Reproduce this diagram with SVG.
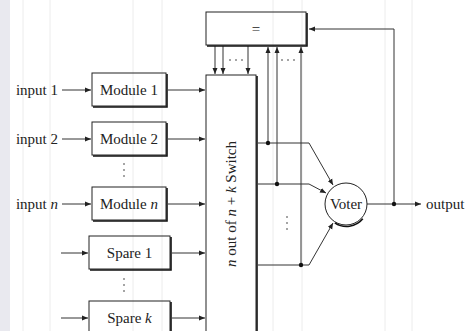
<svg xmlns="http://www.w3.org/2000/svg" width="468" height="331" viewBox="0 0 468 331">
<style>
.bg{stroke:#ececec;stroke-width:1}
.box{fill:none;stroke:#222;stroke-width:1}
.sh{fill:none;stroke:#111;stroke-width:1.6}
.c{fill:none;stroke:#333;stroke-width:1}
.a{marker-end:url(#ah)}
.d{fill:#333}
text{font-family:"Liberation Serif","Times New Roman",serif;font-size:15px;fill:#222}
.m{text-anchor:middle}
.e{text-anchor:end}
.i{font-style:italic}
</style>
<defs>
<marker id="ah" markerUnits="userSpaceOnUse" markerWidth="8" markerHeight="6" refX="6" refY="3" orient="auto">
<path d="M0,0.5 L6,3 L0,5.5 z" fill="#222"/>
</marker>
</defs>
<rect x="0" y="0" width="468" height="331" fill="#fff"/>
<rect x="0" y="0" width="10" height="331" fill="#e9e9ef"/>
<g id="grid">
<line class="bg" x1="23" y1="0" x2="23" y2="331"/>
<line class="bg" x1="50" y1="0" x2="50" y2="331"/>
<line class="bg" x1="133" y1="0" x2="133" y2="331"/>
<line class="bg" x1="162" y1="0" x2="162" y2="331"/>
<line class="bg" x1="273" y1="0" x2="273" y2="331"/>
<line class="bg" x1="302" y1="0" x2="302" y2="331"/>
<line class="bg" x1="385" y1="0" x2="385" y2="331"/>
<line class="bg" x1="412" y1="0" x2="412" y2="331"/>
</g>
<g id="connectors">
<line class="c a" x1="62" y1="90" x2="91" y2="90"/>
<line class="c a" x1="62" y1="139" x2="91" y2="139"/>
<line class="c a" x1="62" y1="204" x2="91" y2="204"/>
<line class="c a" x1="61" y1="253" x2="88" y2="253"/>
<line class="c a" x1="61" y1="318" x2="88" y2="318"/>
<line class="c a" x1="168" y1="90" x2="205" y2="90"/>
<line class="c a" x1="168" y1="139" x2="205" y2="139"/>
<line class="c a" x1="168" y1="204" x2="205" y2="204"/>
<line class="c a" x1="172" y1="253" x2="205" y2="253"/>
<line class="c a" x1="172" y1="318" x2="205" y2="318"/>
<line class="c a" x1="215" y1="46" x2="215" y2="74"/>
<line class="c a" x1="223" y1="46" x2="223" y2="74"/>
<line class="c a" x1="248" y1="46" x2="248" y2="74"/>
<line class="c a" x1="268" y1="143" x2="268" y2="47"/>
<line class="c a" x1="277" y1="184" x2="277" y2="47"/>
<line class="c a" x1="301" y1="265" x2="301" y2="47"/>
<polyline class="c a" points="258,143 309,143 333,185"/>
<polyline class="c a" points="258,184 309,184 326,193"/>
<polyline class="c a" points="258,265 309,265 333,223"/>
<line class="c a" x1="367" y1="204" x2="421" y2="204"/>
<polyline class="c a" points="394,204 394,29 309,29"/>
<circle cx="268" cy="143" r="2.2" fill="#111"/>
<circle cx="277" cy="184" r="2.2" fill="#111"/>
<circle cx="301" cy="265" r="2.2" fill="#111"/>
<circle cx="394" cy="204" r="2.2" fill="#111"/>
<circle class="d" cx="230" cy="60" r="0.8"/>
<circle class="d" cx="236" cy="60" r="0.8"/>
<circle class="d" cx="242" cy="60" r="0.8"/>
<circle class="d" cx="282" cy="60" r="0.8"/>
<circle class="d" cx="288" cy="60" r="0.8"/>
<circle class="d" cx="294" cy="60" r="0.8"/>
<circle class="d" cx="287" cy="217" r="0.8"/>
<circle class="d" cx="287" cy="223" r="0.8"/>
<circle class="d" cx="287" cy="229" r="0.8"/>
</g>
<g id="inputs">
<text x="58" y="95" class="e">input 1</text>
<text x="58" y="144" class="e">input 2</text>
<text x="58" y="209" class="e">input <tspan class="i">n</tspan></text>
</g>
<g id="module1">
<rect class="box" x="92" y="73" width="74" height="33"/>
<polyline class="sh" points="167,74 167,107 93,107"/>
<text x="129" y="95" class="m">Module 1</text>
</g>
<g id="module2">
<rect class="box" x="92" y="122" width="74" height="33"/>
<polyline class="sh" points="167,123 167,156 93,156"/>
<text x="129" y="144" class="m">Module 2</text>
</g>
<g id="vdots1">
<circle class="d" cx="124" cy="164" r="0.8"/>
<circle class="d" cx="124" cy="170" r="0.8"/>
<circle class="d" cx="124" cy="176" r="0.8"/>
</g>
<g id="modulen">
<rect class="box" x="92" y="187" width="74" height="33"/>
<polyline class="sh" points="167,188 167,221 93,221"/>
<text x="129" y="209" class="m">Module <tspan class="i">n</tspan></text>
</g>
<g id="spare1">
<rect class="box" x="89" y="236" width="81" height="33"/>
<polyline class="sh" points="171,237 171,270 90,270"/>
<text x="129.5" y="258" class="m">Spare 1</text>
</g>
<g id="vdots2">
<circle class="d" cx="124" cy="279" r="0.8"/>
<circle class="d" cx="124" cy="285" r="0.8"/>
<circle class="d" cx="124" cy="291" r="0.8"/>
</g>
<g id="sparek">
<rect class="box" x="89" y="301" width="81" height="33"/>
<polyline class="sh" points="171,302 171,335 90,335"/>
<text x="129.5" y="323" class="m">Spare <tspan class="i">k</tspan></text>
</g>
<g id="switch">
<rect class="box" x="206" y="75" width="50" height="270"/>
<line class="sh" x1="257" y1="76" x2="257" y2="345"/>
<text transform="translate(236,204) rotate(-90)" class="m"><tspan class="i">n</tspan> out of <tspan class="i">n</tspan> + <tspan class="i">k</tspan> Switch</text>
</g>
<g id="equal">
<rect class="box" x="206" y="12" width="100" height="33"/>
<polyline class="sh" points="307,13 307,46 207,46"/>
<text x="256" y="34" class="m">=</text>
</g>
<g id="voter">
<circle cx="346" cy="204" r="21" fill="none" stroke="#222" stroke-width="1"/>
<path d="M362,218 A21,21 0 0 1 334,222" fill="none" stroke="#111" stroke-width="1.6" transform="translate(0.8,0.8)"/>
<text x="346" y="209" class="m">Voter</text>
</g>
<g id="output">
<text x="426" y="209">output</text>
</g>
</svg>
